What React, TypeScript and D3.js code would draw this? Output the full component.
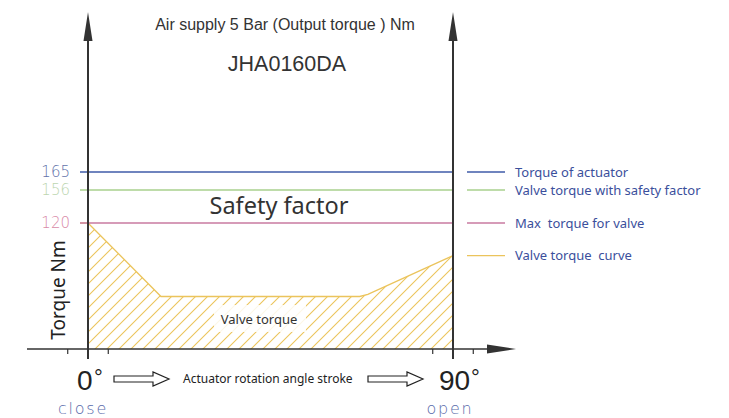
import React from 'react';
import * as d3 from 'd3';

// reference levels (Nm) and their legend entries
const levelValues = [165, 156, 120];
const levelLabels = ['165', '156', '120'];
const levelNames = ['Torque of actuator', 'Valve torque with safety factor', 'Max  torque for valve'];
const levelColors = ['#3f5ba9', '#a9d18e', '#c97aa0'];
const levelTextColors = ['#6272aa', '#bcd6b0', '#d98aa8'];

// valve torque curve, angle in degrees vs torque in Nm
const curveAngles = [0, 18, 67, 69, 90];
const curveTorque = [120, 50, 50, 52, 89];
const curveName = 'Valve torque  curve';

const W = 729;
const H = 418;

const App: React.FC = () => {
  const x = d3.scaleLinear().domain([0, 90]).range([88, 453]);
  // the drawing is schematic, so the torque axis is piecewise
  const y = d3.scaleLinear().domain([0, 120, 156, 165]).range([349, 223, 190, 172]);

  const pts = curveAngles.map((a, i) => ({ a, t: curveTorque[i] }));
  const area = d3
    .area<{ a: number; t: number }>()
    .x((d) => x(d.a))
    .y0(y(0))
    .y1((d) => y(d.t));
  const line = d3
    .line<{ a: number; t: number }>()
    .x((d) => x(d.a))
    .y((d) => y(d.t));

  const axisColor = '#333';
  const legendX = x(90) + 14;
  const legendFont = '"Noto Sans", sans-serif';
  const arial = '"Liberation Sans", Arial, sans-serif';
  const hatch = '#ebc45c';

  const hollowArrow = (x0: number, x1: number, cy: number) => {
    const head = 16;
    const sh = 3;
    const hh = 7;
    return `M${x0},${cy - sh}L${x1 - head},${cy - sh}L${x1 - head},${cy - hh}L${x1},${cy}L${x1 - head},${cy + hh}L${x1 - head},${cy + sh}L${x0},${cy + sh}Z`;
  };

  return (
    <svg width={W} height={H} style={{ position: 'absolute', left: 0, top: 0, background: '#fff' }}>
      <defs>
        <pattern id="hatch" patternUnits="userSpaceOnUse" width={12} height={12}>
          <path d="M0,12L12,0M-3,3L3,-3M9,15L15,9" stroke={hatch} strokeWidth={1.1} />
        </pattern>
      </defs>

      {/* titles */}
      <text x={285} y={30} textAnchor="middle" fontFamily={arial} fontSize={16} fill="#333">
        Air supply 5 Bar (Output torque ) Nm
      </text>
      <text x={287} y={71} textAnchor="middle" fontFamily={arial} fontSize={21.5} fill="#333">
        JHA0160DA
      </text>

      {/* valve torque area */}
      <path d={area(pts) ?? ''} fill="url(#hatch)" />
      <path d={line(pts) ?? ''} fill="none" stroke={hatch} strokeWidth={1.3} />
      <line x1={x(0) - 8} x2={x(0)} y1={y(curveTorque[0])} y2={y(curveTorque[0])} stroke={hatch} strokeWidth={1} />
      <rect x={214} y={305} width={92} height={27} fill="#fff" opacity={0.85} />
      <text x={259} y={324} textAnchor="middle" fontFamily={legendFont} fontSize={13} fill="#333">
        Valve torque
      </text>

      {/* reference levels */}
      {levelValues.map((v, i) => (
        <g key={v}>
          <line x1={x(0) - 8} x2={x(90)} y1={y(v)} y2={y(v)} stroke={levelColors[i]} strokeWidth={1.3} />
          <text
            x={70}
            y={y(v)}
            dy="0.36em"
            textAnchor="end"
            fontFamily='"DejaVu Sans", sans-serif'
            fontWeight={200}
            fontSize={15}
            fill={levelTextColors[i]}
          >
            {levelLabels[i]}
          </text>
          <line x1={legendX} x2={legendX + 38} y1={y(v)} y2={y(v)} stroke={levelColors[i]} strokeWidth={1.3} />
          <text
            x={legendX + 48}
            y={y(v)}
            dy="0.35em"
            xmlSpace="preserve"
            style={{ whiteSpace: 'pre' }}
            fontFamily={legendFont}
            fontSize={13}
            fill="#3b4f9c"
          >
            {levelNames[i]}
          </text>
        </g>
      ))}
      <line
        x1={legendX}
        x2={legendX + 38}
        y1={y(curveTorque[curveTorque.length - 1])}
        y2={y(curveTorque[curveTorque.length - 1])}
        stroke={hatch}
        strokeWidth={1.3}
      />
      <text
        x={legendX + 48}
        y={y(curveTorque[curveTorque.length - 1])}
        dy="0.35em"
        xmlSpace="preserve"
        style={{ whiteSpace: 'pre' }}
        fontFamily={legendFont}
        fontSize={13}
        fill="#3b4f9c"
      >
        {curveName}
      </text>

      <text x={279} y={214} textAnchor="middle" fontFamily={legendFont} fontSize={23.5} fill="#333">
        Safety factor
      </text>

      {/* axes */}
      {[0, 90].map((a) => (
        <g key={a}>
          <line x1={x(a)} x2={x(a)} y1={36} y2={359} stroke={axisColor} strokeWidth={2} />
          <path d={`M${x(a)},12L${x(a) - 4.5},41L${x(a) + 4.5},41Z`} fill={axisColor} />
        </g>
      ))}
      <line x1={27} x2={490} y1={y(0)} y2={y(0)} stroke={axisColor} strokeWidth={1.6} />
      <path d={`M516,${y(0)}L487,${y(0) - 4.5}L487,${y(0) + 4.5}Z`} fill={axisColor} />
      {[-5, 5, 85, 95].map((a) => (
        <line key={a} x1={x(a)} x2={x(a)} y1={y(0)} y2={y(0) + 5} stroke={axisColor} strokeWidth={1.2} />
      ))}

      <text
        transform={`translate(65,290) rotate(-90)`}
        textAnchor="middle"
        fontFamily={legendFont}
        fontSize={19}
        fill="#222"
      >
        Torque Nm
      </text>

      {/* bottom labels */}
      <text x={77} y={390} fontFamily={arial} fontSize={28} fill="#222">
        0
      </text>
      <text x={94} y={385} fontFamily={arial} fontSize={22} fill="#222">
        °
      </text>
      <text x={439} y={390} fontFamily={arial} fontSize={28} fill="#222">
        90
      </text>
      <text x={471} y={385} fontFamily={arial} fontSize={22} fill="#222">
        °
      </text>
      <path d={hollowArrow(114, 169, 379)} fill="#fff" stroke="#222" strokeWidth={1.2} />
      <path d={hollowArrow(368, 423, 379)} fill="#fff" stroke="#222" strokeWidth={1.2} />
      <text x={183} y={383} fontFamily={legendFont} fontSize={12} fill="#222">
        Actuator rotation angle stroke
      </text>
      <text x={83} y={414} textAnchor="middle" fontFamily='"DejaVu Sans", sans-serif' fontWeight={200} fontSize={16} letterSpacing={1.8} fill="#5a6cab">
        close
      </text>
      <text x={450} y={414} textAnchor="middle" fontFamily='"DejaVu Sans", sans-serif' fontWeight={200} fontSize={16} letterSpacing={1.8} fill="#5a6cab">
        open
      </text>
    </svg>
  );
};

export default App;
